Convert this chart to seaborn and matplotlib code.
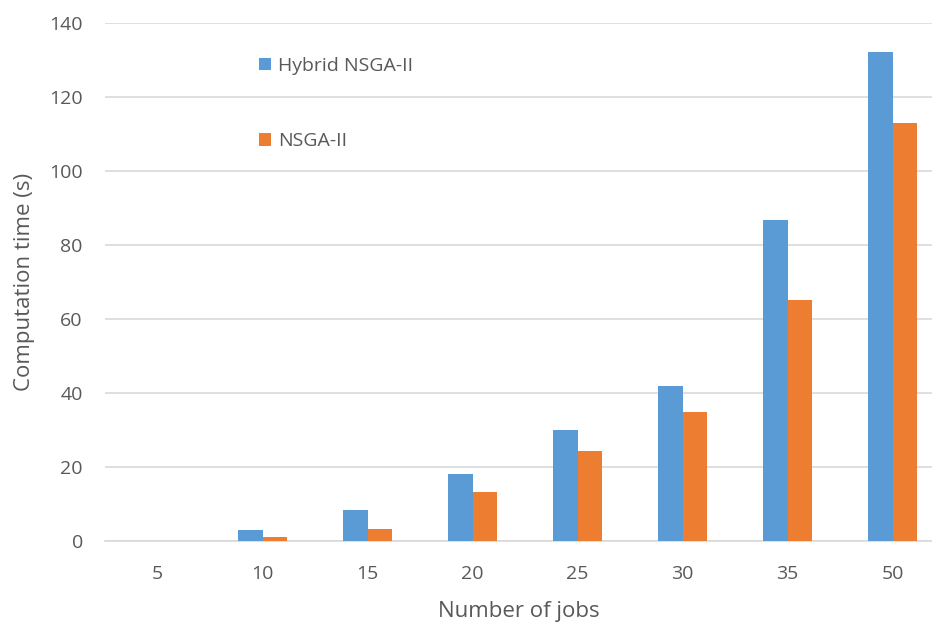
import matplotlib
matplotlib.use("Agg")
import matplotlib.pyplot as plt
import seaborn as sns
import pandas as pd

jobs = ["5", "10", "15", "20", "25", "30", "35", "50"]
hybrid_nsga2 = [0.0, 3.1, 8.5, 18.2, 30.0, 41.8, 86.8, 132.2]
nsga2 = [0.0, 1.2, 3.2, 13.2, 24.2, 35.0, 65.2, 113.0]
series_names = ["Hybrid NSGA-II", "NSGA-II"]
y_ticks = [0, 20, 40, 60, 80, 100, 120, 140]

df = pd.DataFrame({
    "jobs": jobs * 2,
    "time": hybrid_nsga2 + nsga2,
    "method": [series_names[0]] * len(jobs) + [series_names[1]] * len(jobs),
})

sns.set_theme(style="white")
plt.rcParams["font.family"] = ["Open Sans", "DejaVu Sans"]

text_color = "#595959"
grid_color = "#D9D9D9"

fig = plt.figure(figsize=(9.32, 6.23), dpi=100)
ax = fig.add_axes([0.1127, 0.1316, 0.8873, 0.8315])

sns.barplot(data=df, x="jobs", y="time", hue="method", order=jobs,
            hue_order=series_names, palette=["#5B9BD5", "#ED7D31"],
            saturation=1, width=0.47, gap=0, linewidth=0, ax=ax, zorder=3)

ax.set_xlim(-0.5, 7.376)
ax.set_ylim(0, 140)
ax.set_yticks(y_ticks)
ax.yaxis.grid(True, color=grid_color, linewidth=1.2, zorder=0)
ax.set_axisbelow(True)
for side in ["top", "right", "left"]:
    ax.spines[side].set_visible(False)
ax.spines["bottom"].set_color(grid_color)
ax.spines["bottom"].set_linewidth(1.2)

ax.tick_params(axis="both", length=0, labelsize=14, colors=text_color)
ax.tick_params(axis="y", pad=16)
ax.tick_params(axis="x", pad=17)

ax.set_xlabel("Number of jobs", fontsize=16, color=text_color, labelpad=13)
ax.set_ylabel("Computation time (s)", fontsize=16, color=text_color, labelpad=10)

leg = ax.legend(loc="upper left", bbox_to_anchor=(0.165, 0.968), frameon=False,
                fontsize=14, labelcolor=text_color, handlelength=0.6,
                handleheight=0.6, handletextpad=0.4, labelspacing=2.95)

fig.savefig("out.png", dpi=100)
